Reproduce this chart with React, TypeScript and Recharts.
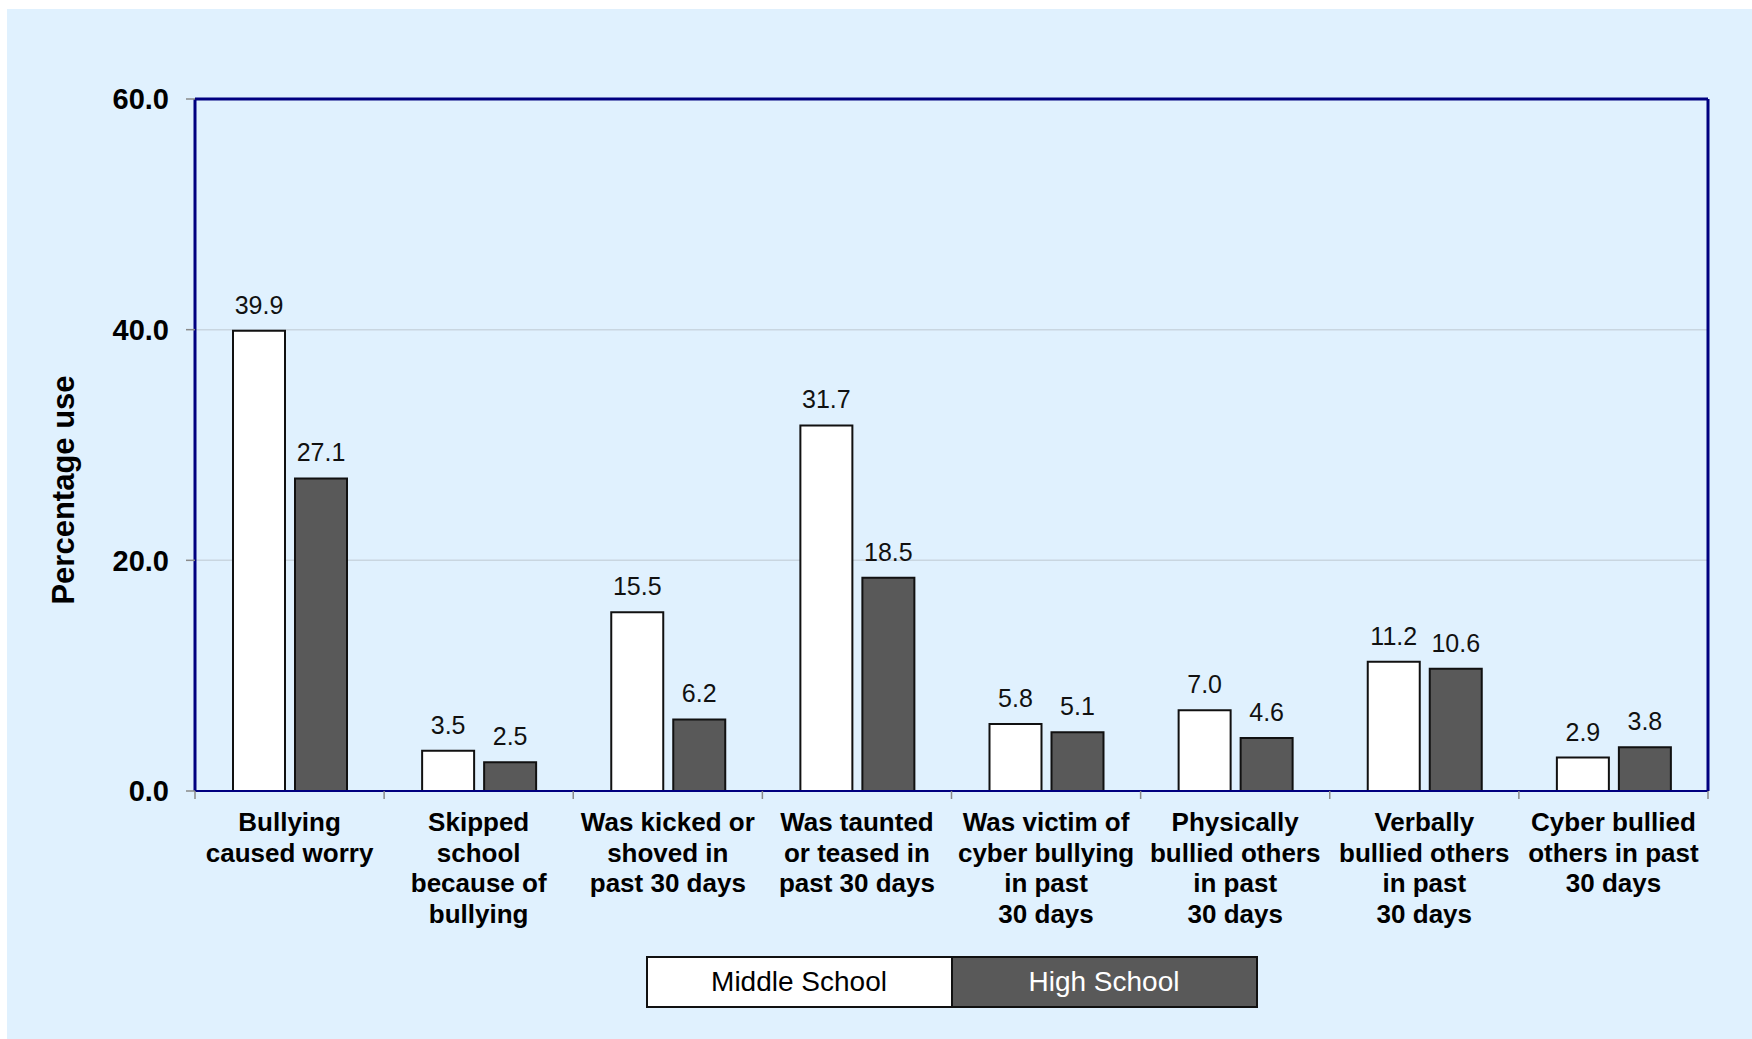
import { BarChart, Bar, XAxis, YAxis, CartesianGrid, Legend, LabelList, Label, ReferenceLine } from 'recharts'

const categoryLines: string[][] = [
  ['Bullying', 'caused worry'],
  ['Skipped', 'school', 'because of', 'bullying'],
  ['Was kicked or', 'shoved in', 'past 30 days'],
  ['Was taunted', 'or teased in', 'past 30 days'],
  ['Was victim of', 'cyber bullying', 'in past', '30 days'],
  ['Physically', 'bullied others', 'in past', '30 days'],
  ['Verbally', 'bullied others', 'in past', '30 days'],
  ['Cyber bullied', 'others in past', '30 days'],
]
const middleSchool = [39.9, 3.5, 15.5, 31.7, 5.8, 7.0, 11.2, 2.9]
const highSchool = [27.1, 2.5, 6.2, 18.5, 5.1, 4.6, 10.6, 3.8]
const yTicks = [0, 20, 40, 60]

const data = categoryLines.map((lines, i) => ({
  name: lines.join(' '),
  middle: middleSchool[i],
  high: highSchool[i],
}))
const lastName = data[data.length - 1].name

const FONT = '"Liberation Sans", Arial, sans-serif'
const NAVY = '#000080'
const DARK = '#595959'

const CHART_W = 1745
const CHART_H = 1030
const Y_AXIS_W = 188
const MARGIN = { top: 90, right: 44, left: 0, bottom: 31 }
const BAND = (CHART_W - Y_AXIS_W - MARGIN.left - MARGIN.right) / categoryLines.length

// category label with tick marks on the band edges
function CategoryTick(props: any) {
  const { x, y, index, payload } = props
  const lines = categoryLines[index] ?? [String(payload.value)]
  const last = index === categoryLines.length - 1
  return (
    <g>
      <line x1={x - BAND / 2} y1={y} x2={x - BAND / 2} y2={y + 8} stroke="#8a8a8a" strokeWidth={1.5} />
      {last && <line x1={x + BAND / 2} y1={y} x2={x + BAND / 2} y2={y + 8} stroke="#8a8a8a" strokeWidth={1.5} />}
      <text textAnchor="middle" fontFamily={FONT} fontWeight="bold" fontSize={26} fill="#000">
        {lines.map((l, i) => (
          <tspan key={i} x={x} y={y + 40 + i * 30.5}>
            {l}
          </tspan>
        ))}
      </text>
    </g>
  )
}

function ValueLabel(props: any) {
  const { x, y, width, value } = props
  return (
    <text x={x + width / 2} y={y - 17} textAnchor="middle" fontFamily={FONT} fontSize={25} fill="#111">
      {Number(value).toFixed(1)}
    </text>
  )
}

function LegendBox() {
  const cell = {
    width: 303,
    height: 48,
    display: 'flex',
    alignItems: 'center',
    justifyContent: 'center',
    fontFamily: FONT,
    fontSize: 28,
  }
  return (
    <div style={{ display: 'flex', justifyContent: 'center', paddingLeft: Y_AXIS_W }}>
      <div style={{ display: 'flex', border: '2px solid #111' }}>
        <div style={{ ...cell, background: '#fff', color: '#000', borderRight: '2px solid #111' }}>Middle School</div>
        <div style={{ ...cell, background: DARK, color: '#fff' }}>High School</div>
      </div>
    </div>
  )
}

export default function App() {
  return (
    <div style={{ position: 'absolute', left: 0, top: 0, width: 1752, height: 1039, background: '#fff' }}>
      <div style={{ position: 'absolute', left: 7, top: 9, width: CHART_W, height: CHART_H, background: '#E0F1FE' }}>
        <BarChart width={CHART_W} height={CHART_H} data={data} margin={MARGIN} barSize={52} barGap={10}>
          <CartesianGrid horizontal vertical={false} stroke="#c9d6e0" strokeWidth={1.5} />
          <XAxis
            dataKey="name"
            interval={0}
            height={165}
            tickSize={0}
            tickMargin={0}
            tick={<CategoryTick />}
            axisLine={{ stroke: NAVY, strokeWidth: 2 }}
            tickLine={false}
          />
          <YAxis
            domain={[0, 60]}
            ticks={yTicks}
            width={Y_AXIS_W}
            tickSize={9}
            tickMargin={17}
            tickFormatter={(v: number) => v.toFixed(1)}
            tick={{ fontFamily: FONT, fontWeight: 'bold', fontSize: 29, fill: '#000' }}
            tickLine={{ stroke: '#8a8a8a', strokeWidth: 1.5 }}
            axisLine={{ stroke: NAVY, strokeWidth: 3 }}
          >
            <Label
              content={() => (
                <text
                  x={56}
                  y={481}
                  transform="rotate(-90 56 481)"
                  textAnchor="middle"
                  dominantBaseline="central"
                  fontFamily={FONT}
                  fontWeight="bold"
                  fontSize={31}
                  fill="#000"
                >
                  Percentage use
                </text>
              )}
            />
          </YAxis>
          <ReferenceLine y={60} stroke={NAVY} strokeWidth={3} />
          <ReferenceLine x={lastName} position="end" stroke={NAVY} strokeWidth={3} />
          <Legend verticalAlign="bottom" content={<LegendBox />} />
          <Bar dataKey="middle" name="Middle School" fill="#fff" stroke="#111" strokeWidth={2} isAnimationActive={false}>
            <LabelList dataKey="middle" content={<ValueLabel />} />
          </Bar>
          <Bar dataKey="high" name="High School" fill={DARK} stroke="#111" strokeWidth={2} isAnimationActive={false}>
            <LabelList dataKey="high" content={<ValueLabel />} />
          </Bar>
        </BarChart>
      </div>
    </div>
  )
}
